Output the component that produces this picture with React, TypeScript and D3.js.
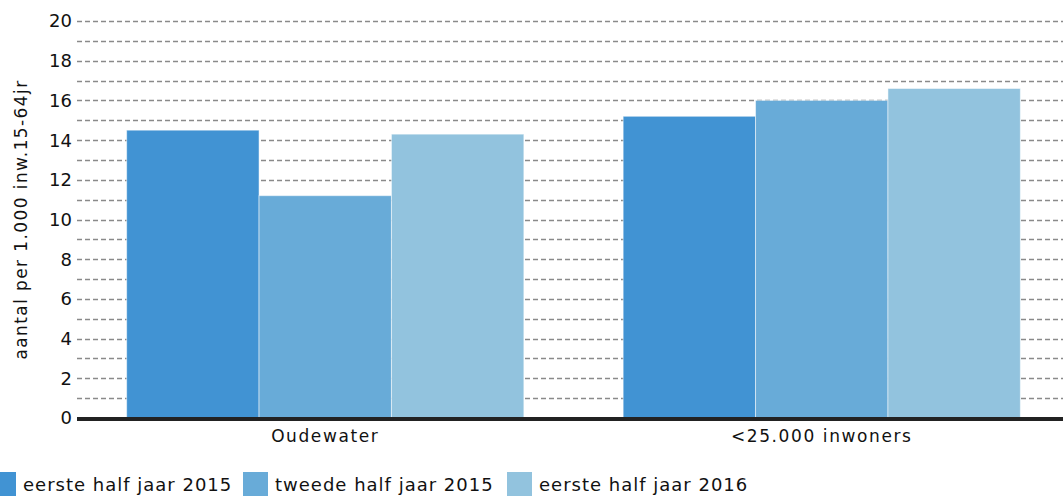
import { useEffect, useRef } from "react";
import * as d3 from "d3";

const categories = ["Oudewater", "<25.000 inwoners"];
const seriesNames = ["eerste half jaar 2015", "tweede half jaar 2015", "eerste half jaar 2016"];
const colors = ["#4193d3", "#68abd8", "#92c3de"];
const eersteHalf2015 = [14.5, 15.2];
const tweedeHalf2015 = [11.2, 16.0];
const eersteHalf2016 = [14.3, 16.6];
const yTicks = [0, 2, 4, 6, 8, 10, 12, 14, 16, 18, 20];
const gridValues = d3.range(0, 21, 1);

export default function App() {
  const svgRef = useRef<SVGSVGElement>(null);

  useEffect(() => {
    if (!svgRef.current) return;
    const width = 1063;
    const height = 496;
    const margin = { top: 21, right: 0, bottom: 78, left: 77 };
    const font = "'DejaVu Sans', Verdana, sans-serif";

    const svg = d3.select(svgRef.current);
    svg.selectAll("*").remove();

    const series = [eersteHalf2015, tweedeHalf2015, eersteHalf2016];

    // plot area runs a little past the right edge of the picture
    const x0 = d3.scaleBand()
      .domain(categories)
      .range([margin.left, 1070])
      .paddingInner(0.2)
      .paddingOuter(0.1);

    const x1 = d3.scaleBand()
      .domain(seriesNames)
      .range([0, x0.bandwidth()]);

    const y = d3.scaleLinear()
      .domain([0, 20])
      .range([height - margin.bottom, margin.top]);

    // grid
    svg.append("g")
      .selectAll("line")
      .data(gridValues.filter(d => d > 0))
      .join("line")
      .attr("x1", margin.left)
      .attr("x2", width - margin.right)
      .attr("y1", d => Math.round(y(d)) + 0.5)
      .attr("y2", d => Math.round(y(d)) + 0.5)
      .attr("stroke", "#8a8a8a")
      .attr("stroke-width", 1.5)
      .attr("stroke-dasharray", "5,3");

    // bars
    const groups = svg.append("g")
      .selectAll("g")
      .data(categories)
      .join("g")
      .attr("transform", d => `translate(${x0(d)},0)`);

    groups.selectAll("rect")
      .data((_, i) => series.map((s, j) => ({ key: seriesNames[j], value: s[i], color: colors[j] })))
      .join("rect")
      .attr("x", d => x1(d.key) as number)
      .attr("y", d => y(d.value))
      .attr("width", x1.bandwidth())
      .attr("height", d => y(0) - y(d.value))
      .attr("fill", d => d.color)
      .attr("stroke", "rgba(255,255,255,0.5)")
      .attr("stroke-width", 1);

    // baseline
    svg.append("line")
      .attr("x1", margin.left)
      .attr("x2", width - margin.right)
      .attr("y1", y(0) + 1)
      .attr("y2", y(0) + 1)
      .attr("stroke", "#222")
      .attr("stroke-width", 4);

    // y tick labels
    svg.append("g")
      .selectAll("text")
      .data(yTicks)
      .join("text")
      .attr("x", margin.left - 5)
      .attr("y", d => y(d))
      .attr("dy", "0.36em")
      .attr("text-anchor", "end")
      .attr("font-family", font)
      .attr("font-size", 18)
      .attr("fill", "#111")
      .text(d => d);

    // y title
    svg.append("text")
      .attr("transform", `translate(27,${(margin.top + height - margin.bottom) / 2}) rotate(-90)`)
      .attr("text-anchor", "middle")
      .attr("font-family", font)
      .attr("font-size", 17)
      .attr("letter-spacing", 1.4)
      .attr("fill", "#111")
      .text("aantal per 1.000 inw.15-64jr");

    // category labels
    svg.append("g")
      .selectAll("text")
      .data(categories)
      .join("text")
      .attr("x", d => (x0(d) as number) + x0.bandwidth() / 2)
      .attr("y", y(0) + 24)
      .attr("text-anchor", "middle")
      .attr("font-family", font)
      .attr("font-size", 17)
      .attr("letter-spacing", 1.6)
      .attr("fill", "#111")
      .text(d => d);

    // legend
    const legendX = [-9, 243, 507];
    const legend = svg.append("g")
      .selectAll("g")
      .data(seriesNames)
      .join("g")
      .attr("transform", (_, i) => `translate(${legendX[i]},472)`);
    legend.append("rect")
      .attr("width", 25)
      .attr("height", 25)
      .attr("fill", (_, i) => colors[i]);
    legend.append("text")
      .attr("x", 32)
      .attr("y", 19)
      .attr("font-family", font)
      .attr("font-size", 18)
      .attr("letter-spacing", 1)
      .attr("fill", "#111")
      .text(d => d);
  }, []);

  return (
    <svg
      ref={svgRef}
      width={1063}
      height={496}
      style={{ position: "absolute", left: 0, top: 0, background: "#fff" }}
    />
  );
}
